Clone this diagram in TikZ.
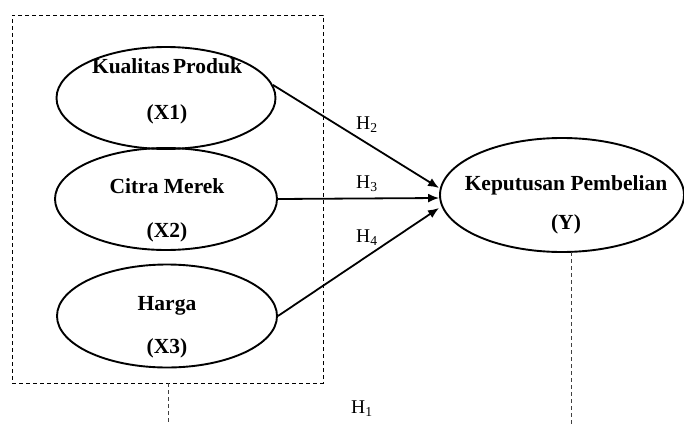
\documentclass[tikz,border=0pt]{standalone}
\usepackage{fontspec}
\setmainfont{Liberation Serif}
\usetikzlibrary{shapes.geometric,arrows.meta}
\begin{document}
\begin{tikzpicture}[x=1pt,y=-1pt,
  var/.style={draw,ellipse,line width=1.9pt,inner sep=0pt},
  lbl/.style={font=\fontsize{21.5}{24}\selectfont\bfseries,inner sep=0pt,anchor=base},
  hyp/.style={font=\fontsize{19.5}{22}\selectfont,inner sep=0pt,anchor=base west},
  arr/.style={line width=1.8pt,-{Latex[length=11pt,width=9pt]}},
  dline/.style={draw=black!75,line width=0.8pt,dash pattern=on 4pt off 3pt}]
\useasboundingbox (0,0) rectangle (684,425);
\node[draw,line width=0.8pt,dash pattern=on 4pt off 3pt,minimum width=311pt,minimum height=368pt,inner sep=0pt] (box) at (167.5,199) {};
\node[var,minimum width=219pt,minimum height=102pt] (e1) at (166,98) {};
\node[var,minimum width=222pt,minimum height=102pt] (e2) at (166,199) {};
\node[var,minimum width=220pt,minimum height=103pt] (e3) at (167,316) {};
\node[var,minimum width=244pt,minimum height=114pt] (e4) at (562,195) {};
\node[lbl] (t1) at (167,74) {Kualitas\hspace{-2pt} Produk};
\node[lbl] (t1b) at (167,119) {(X1)};
\node[lbl] (t2) at (167,193) {Citra Merek};
\node[lbl] (t2b) at (167,237) {(X2)};
\node[lbl] (t3) at (167,310) {Harga};
\node[lbl] (t3b) at (167,353) {(X3)};
\node[lbl] (t4) at (566,190) {Keputusan Pembelian};
\node[lbl] (t4b) at (566,229) {(Y)};
\draw[arr] (e1.7) -- ([yshift=7pt]e4.west);
\draw[arr] (e2.east) -- ([yshift=-3pt]e4.west);
\draw[arr] (e3.east) -- ([yshift=-13pt]e4.west);
\node[hyp] (h2) at (356,129) {H\textsubscript{2}};
\node[hyp] (h3) at (356,188) {H\textsubscript{3}};
\node[hyp] (h4) at (356,242) {H\textsubscript{4}};
\node[hyp] (h1) at (351,413) {H\textsubscript{1}};
\coordinate (c1) at (168,425);
\coordinate (c2a) at (571,252);
\coordinate (c2) at (571,425);
\draw[dline] (box.south -| c1) -- (c1);
\draw[dline] (c2a) -- (c2);
\end{tikzpicture}
\end{document}
